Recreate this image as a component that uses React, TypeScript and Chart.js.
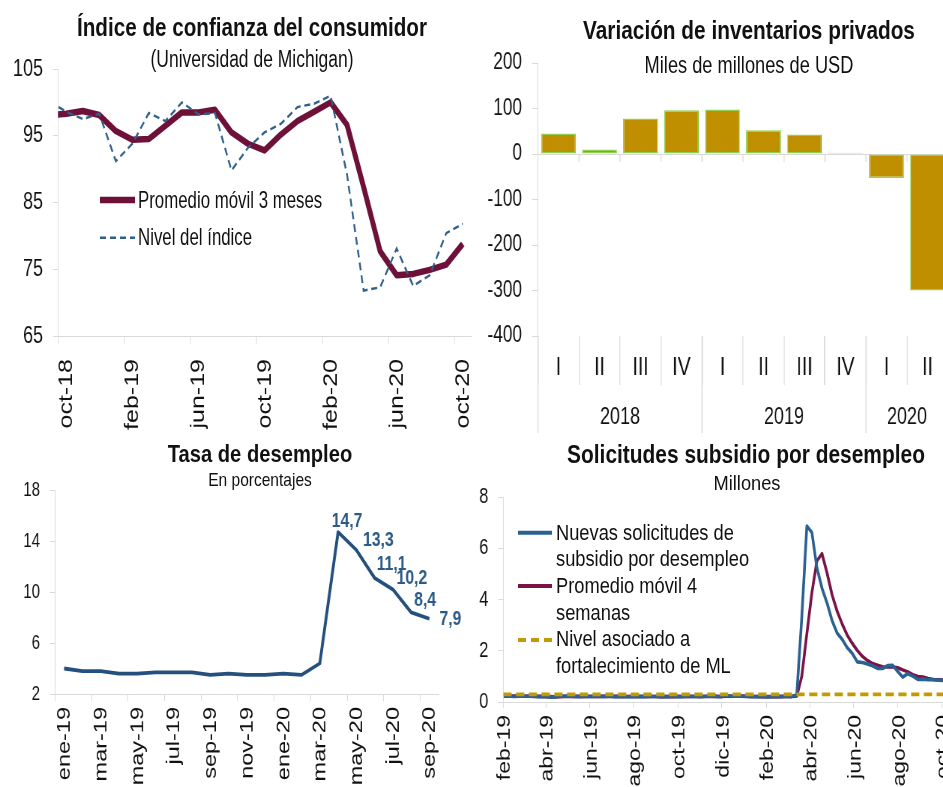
import React, { useEffect, useRef } from 'react';
import { Chart, registerables } from 'chart.js';

Chart.register(...registerables);

const FONT = "'Liberation Sans', Arial, sans-serif";
const AXIS_GRAY = '#d9d9d9';
const INK = '#111111';
// the reference uses condensed lettering; canvases are drawn wider and squeezed horizontally
const SX = 0.75;
const hx = (px: number) => px / SX;

/* ---------- Panel 1: consumer confidence ---------- */
const ICC_TITLE = 'Índice de confianza del consumidor';
const ICC_SUBTITLE = '(Universidad de Michigan)';
const ICC_MONTHS = ['sep-18', 'oct-18', 'nov-18', 'dic-18', 'ene-19', 'feb-19', 'mar-19', 'abr-19', 'may-19', 'jun-19', 'jul-19', 'ago-19', 'sep-19', 'oct-19', 'nov-19', 'dic-19', 'ene-20', 'feb-20', 'mar-20', 'abr-20', 'may-20', 'jun-20', 'jul-20', 'ago-20', 'sep-20', 'oct-20'];
const ICC_LEVEL = [100.1, 98.6, 97.5, 98.3, 91.2, 93.8, 98.4, 97.2, 100.0, 98.2, 98.4, 89.8, 93.2, 95.5, 96.8, 99.3, 99.8, 101.0, 89.1, 71.8, 72.3, 78.1, 72.5, 74.1, 80.4, 81.8];
const ICC_MA3 = [98.1, 98.3, 98.7, 98.1, 95.7, 94.4, 94.5, 96.5, 98.5, 98.5, 98.9, 95.5, 93.8, 92.8, 95.2, 97.2, 98.6, 100.0, 96.6, 87.3, 77.7, 74.1, 74.3, 74.9, 75.7, 78.8];
const ICC_TICKS = ['oct-18', 'feb-19', 'jun-19', 'oct-19', 'feb-20', 'jun-20', 'oct-20'];
const ICC_AXIS_START = 'oct-18';
const ICC_AXIS_END = 'nov-20';
const ICC_LEGEND = ['Promedio móvil 3 meses', 'Nivel del índice'];

/* ---------- Panel 2: private inventories ---------- */
const INV_TITLE = 'Variación de inventarios privados';
const INV_SUBTITLE = 'Miles de millones de USD';
const INV_QUARTERS = ['I', 'II', 'III', 'IV', 'I', 'II', 'III', 'IV', 'I', 'II'];
const INV_YEARS = ['2018', '2019', '2020'];
const INV_YEAR_SIZES = [4, 4, 2];
const INV_VALUES = [45, 10, 78, 96, 98, 52, 43, 3, -53, -300];

/* ---------- Panel 3: unemployment rate ---------- */
const UNEMP_TITLE = 'Tasa de desempleo';
const UNEMP_SUBTITLE = 'En porcentajes';
const UNEMP_MONTHS = ['ene-19', 'feb-19', 'mar-19', 'abr-19', 'may-19', 'jun-19', 'jul-19', 'ago-19', 'sep-19', 'oct-19', 'nov-19', 'dic-19', 'ene-20', 'feb-20', 'mar-20', 'abr-20', 'may-20', 'jun-20', 'jul-20', 'ago-20', 'sep-20'];
const UNEMP_RATE = [4.0, 3.8, 3.8, 3.6, 3.6, 3.7, 3.7, 3.7, 3.5, 3.6, 3.5, 3.5, 3.6, 3.5, 4.4, 14.7, 13.3, 11.1, 10.2, 8.4, 7.9];
const UNEMP_TICKS = ['ene-19', 'mar-19', 'may-19', 'jul-19', 'sep-19', 'nov-19', 'ene-20', 'mar-20', 'may-20', 'jul-20', 'sep-20'];
const UNEMP_AXIS_START = 'ene-19';
const UNEMP_AXIS_END = 'oct-20';
const UNEMP_LABELLED = ['abr-20', 'may-20', 'jun-20', 'jul-20', 'ago-20', 'sep-20'];
// label offsets (dx, dy) in screen pixels relative to each labelled point
const UNEMP_LABEL_OFFSETS = [[9, -11], [22, -10], [17, -14], [19, -11], [14, -12], [21, 0]];

/* ---------- Panel 4: jobless claims ---------- */
const CLAIMS_TITLE = 'Solicitudes subsidio por desempleo';
const CLAIMS_SUBTITLE = 'Millones';
const CLAIMS_FIRST_WEEK = '2019-02-02';
const CLAIMS_NEW = [
  0.253, 0.234, 0.216, 0.225, 0.223, 0.229, 0.221, 0.211, 0.202, 0.196, 0.192, 0.230, 0.230, 0.228, 0.212, 0.211,
  0.215, 0.218, 0.222, 0.216, 0.227, 0.221, 0.209, 0.216, 0.206, 0.215, 0.209, 0.220, 0.209, 0.215, 0.217, 0.204,
  0.208, 0.213, 0.219, 0.210, 0.214, 0.218, 0.215, 0.211, 0.225, 0.227, 0.213, 0.203, 0.252, 0.234, 0.222, 0.222,
  0.214, 0.204, 0.211, 0.216, 0.201, 0.205, 0.210, 0.219, 0.216, 0.211, 0.282, 3.307, 6.867, 6.615, 5.237, 4.442,
  3.867, 3.176, 2.687, 2.446, 2.126, 1.901, 1.566, 1.540, 1.482, 1.413, 1.310, 1.308, 1.422, 1.435, 1.191, 0.971,
  1.104, 1.011, 0.881, 0.893, 0.866, 0.873, 0.849, 0.845, 0.898,
];
const CLAIMS_MA4 = [
  0.228, 0.232, 0.232, 0.232, 0.225, 0.223, 0.225, 0.221, 0.216, 0.208, 0.200, 0.205, 0.212, 0.220, 0.225, 0.220,
  0.217, 0.214, 0.217, 0.218, 0.221, 0.222, 0.218, 0.218, 0.213, 0.212, 0.212, 0.213, 0.213, 0.213, 0.215, 0.211,
  0.211, 0.211, 0.211, 0.213, 0.214, 0.215, 0.214, 0.215, 0.217, 0.220, 0.219, 0.217, 0.224, 0.226, 0.228, 0.233,
  0.223, 0.216, 0.213, 0.211, 0.208, 0.208, 0.208, 0.209, 0.213, 0.214, 0.232, 1.004, 2.667, 4.268, 5.507, 5.790,
  5.040, 4.181, 3.543, 3.044, 2.609, 2.290, 2.010, 1.783, 1.622, 1.500, 1.436, 1.378, 1.363, 1.369, 1.339, 1.255,
  1.175, 1.069, 0.992, 0.972, 0.913, 0.878, 0.870, 0.858, 0.866,
];
const CLAIMS_THRESHOLD = 0.3;
const CLAIMS_TICKS = ['feb-19', 'abr-19', 'jun-19', 'ago-19', 'oct-19', 'dic-19', 'feb-20', 'abr-20', 'jun-20', 'ago-20', 'oct-20'];
const CLAIMS_AXIS_START = '2019-02-01';
const CLAIMS_AXIS_END = '2020-11-01';
const CLAIMS_LEGEND = [
  ['Nuevas solicitudes de', 'subsidio por desempleo'],
  ['Promedio móvil 4', 'semanas'],
  ['Nivel asociado a', 'fortalecimiento de ML'],
];

/* ---------- colours ---------- */
const MAROON = '#6e1139';
const DASH_BLUE = '#2f5f8a';
const LINE_BLUE = '#24507d';
const CLAIMS_BLUE = '#2b6192';
const CLAIMS_MAROON = '#7a1446';
const GOLD = '#c49a00';
const BAR_FILL = '#bf8f00';
const BAR_EDGE = '#92d050';
const LABEL_BLUE = '#2c5a88';

/* ---------- helpers ---------- */
const MONTH_ABBR = ['ene', 'feb', 'mar', 'abr', 'may', 'jun', 'jul', 'ago', 'sep', 'oct', 'nov', 'dic'];
const monthNum = (label: string) => {
  const [m, y] = label.split('-');
  return (2000 + Number(y)) * 12 + MONTH_ABBR.indexOf(m);
};
const monthOffset = (label: string, start: string) => monthNum(label) - monthNum(start);
const DAY = 86400000;
const isoDay = (iso: string) => {
  const [y, m, d] = iso.split('-').map(Number);
  return Date.UTC(y, m - 1, d) / DAY;
};
const tickDay = (label: string) => {
  const [m, y] = label.split('-');
  return Date.UTC(2000 + Number(y), MONTH_ABBR.indexOf(m), 1) / DAY;
};
const fmtComma = (v: number) => v.toFixed(1).replace('.', ',');

const fixSize = (size: number) => (scale: any) => {
  if (scale.isHorizontal()) scale.height = size;
  else scale.width = size;
  scale.paddingLeft = 0;
  scale.paddingRight = 0;
  scale.paddingTop = 0;
  scale.paddingBottom = 0;
};
const setTicks = (values: number[]) => (scale: any) => {
  scale.ticks = values.map((v) => ({ value: v }));
};

const yAxis = (min: number, max: number, step: number, width: number, size: number, extra: any = {}) => ({
  type: 'linear',
  min,
  max,
  afterFit: fixSize(hx(width)),
  border: { color: AXIS_GRAY, width: 1 },
  grid: { drawOnChartArea: false, drawTicks: true, tickLength: hx(5), color: AXIS_GRAY, tickColor: AXIS_GRAY },
  ticks: { stepSize: step, font: { family: FONT, size }, color: INK, padding: hx(10) },
  ...extra,
});

const monthAxis = (
  ticks: string[],
  start: string,
  end: string,
  height: number,
  fontSize: number,
  labelOffset: number,
  tickLength: number,
  padding: number,
) => ({
  type: 'linear',
  min: 0,
  max: monthOffset(end, start),
  afterFit: fixSize(height),
  afterBuildTicks: setTicks(ticks.map((t) => monthOffset(t, start))),
  border: { color: AXIS_GRAY, width: 1 },
  grid: { drawOnChartArea: false, drawTicks: true, tickLength, color: AXIS_GRAY, tickColor: AXIS_GRAY },
  ticks: {
    autoSkip: false,
    minRotation: 90,
    maxRotation: 90,
    labelOffset: hx(labelOffset),
    padding,
    font: { family: FONT, size: fontSize },
    color: INK,
    callback: (_v: any, i: number) => ticks[i],
  },
});

const baseOptions = (padding: any) => ({
  responsive: false,
  animation: false,
  events: [],
  layout: { padding },
  plugins: { legend: { display: false }, tooltip: { enabled: false } },
});

/* ---------- chart configs ---------- */
function iccConfig(): any {
  const pos = (m: string) => monthOffset(m, ICC_AXIS_START) + 0.5;
  return {
    type: 'line',
    data: {
      datasets: [
        {
          label: ICC_LEGEND[1],
          data: ICC_MONTHS.map((m, i) => ({ x: pos(m), y: ICC_LEVEL[i] })),
          borderColor: DASH_BLUE,
          borderWidth: 2.4,
          borderDash: [8, 5],
          pointRadius: 0,
          clip: 0,
          order: 0,
        },
        {
          label: ICC_LEGEND[0],
          data: ICC_MONTHS.map((m, i) => ({ x: pos(m), y: ICC_MA3[i] })),
          borderColor: MAROON,
          borderWidth: 6.5,
          borderJoinStyle: 'round',
          pointRadius: 0,
          clip: 0,
          order: 1,
        },
      ],
    },
    options: {
      ...baseOptions({ left: 0, right: hx(9), top: 69, bottom: 0 }),
      scales: {
        x: monthAxis(ICC_TICKS, ICC_AXIS_START, ICC_AXIS_END, 104, 25, 9, 8, 15),
        y: yAxis(65, 105, 10, 58, 24, {}),
      },
    },
  };
}

const invPlugin = {
  id: 'invAxis',
  afterDraw(chart: any) {
    const { ctx, chartArea } = chart;
    const xs = chart.scales.x;
    const ys = chart.scales.y;
    const n = INV_QUARTERS.length;
    const w = (xs.right - xs.left) / n;
    const y0 = ys.getPixelForValue(0);
    ctx.save();
    ctx.strokeStyle = AXIS_GRAY;
    ctx.lineWidth = 1.3;
    for (let i = 1; i < n; i++) {
      const x = xs.left + i * w;
      ctx.beginPath();
      ctx.moveTo(x, y0);
      ctx.lineTo(x, y0 + 8);
      ctx.stroke();
    }
    let start = 0;
    ctx.font = `24px ${FONT}`;
    ctx.fillStyle = INK;
    ctx.textAlign = 'center';
    ctx.textBaseline = 'middle';
    INV_YEARS.forEach((yr, k) => {
      const x = xs.left + start * w;
      ctx.beginPath();
      ctx.moveTo(x, chartArea.bottom);
      ctx.lineTo(x, chartArea.bottom + 97);
      ctx.stroke();
      const cx = xs.left + (start + INV_YEAR_SIZES[k] / 2) * w;
      ctx.fillText(yr, cx, chartArea.bottom + 81);
      start += INV_YEAR_SIZES[k];
    });
    ctx.restore();
  },
};

function invConfig(): any {
  return {
    type: 'bar',
    data: {
      labels: INV_QUARTERS,
      datasets: [
        {
          data: INV_VALUES,
          backgroundColor: BAR_FILL,
          borderColor: BAR_EDGE,
          borderWidth: 1.5,
          borderSkipped: false,
          barPercentage: 0.85,
          categoryPercentage: 1,
        },
      ],
    },
    plugins: [invPlugin],
    options: {
      ...baseOptions({ left: 0, right: hx(12), top: 63, bottom: 0 }),
      scales: {
        x: {
          type: 'category',
          offset: true,
          afterFit: fixSize(104),
          border: { display: false },
          grid: { offset: true, drawOnChartArea: false, drawTicks: true, tickLength: 49, lineWidth: 1.3, color: AXIS_GRAY, tickColor: AXIS_GRAY },
          ticks: { font: { family: FONT, size: 26 }, color: INK, padding: -33, autoSkip: false, maxRotation: 0 },
        },
        y: yAxis(-400, 200, 100, 68, 23, {
          grid: {
            drawOnChartArea: true,
            drawTicks: true,
            tickLength: hx(6),
            color: (c: any) => (c.tick && c.tick.value === 0 ? AXIS_GRAY : 'rgba(0,0,0,0)'),
            tickColor: AXIS_GRAY,
          },
        }),
      },
    },
  };
}

const unempLabelPlugin = {
  id: 'unempLabels',
  afterDatasetsDraw(chart: any) {
    const meta = chart.getDatasetMeta(0);
    const ctx = chart.ctx;
    ctx.save();
    ctx.font = `bold 21px ${FONT}`;
    ctx.fillStyle = LABEL_BLUE;
    ctx.textAlign = 'center';
    ctx.textBaseline = 'middle';
    UNEMP_LABELLED.forEach((m, k) => {
      const idx = UNEMP_MONTHS.indexOf(m);
      const pt = meta.data[idx];
      const [dx, dy] = UNEMP_LABEL_OFFSETS[k];
      ctx.fillText(fmtComma(UNEMP_RATE[idx]), pt.x + hx(dx), pt.y + dy);
    });
    ctx.restore();
  },
};

function unempConfig(): any {
  return {
    type: 'line',
    data: {
      datasets: [
        {
          data: UNEMP_MONTHS.map((m, i) => ({ x: monthOffset(m, UNEMP_AXIS_START) + 0.5, y: UNEMP_RATE[i] })),
          borderColor: LINE_BLUE,
          borderWidth: 3.8,
          borderJoinStyle: 'round',
          pointRadius: 0,
          clip: 0,
        },
      ],
    },
    plugins: [unempLabelPlugin],
    options: {
      ...baseOptions({ left: 0, right: hx(31.5), top: 50, bottom: 0 }),
      scales: {
        x: monthAxis(UNEMP_TICKS, UNEMP_AXIS_START, UNEMP_AXIS_END, 93, 23.5, 10, 7, 6),
        y: yAxis(2, 18, 4, 55, 20, {}),
      },
    },
  };
}

function claimsConfig(): any {
  const origin = isoDay(CLAIMS_AXIS_START);
  const first = isoDay(CLAIMS_FIRST_WEEK) - origin;
  const weekX = (i: number) => first + 7 * i;
  const maxX = isoDay(CLAIMS_AXIS_END) - origin;
  const tickVals = CLAIMS_TICKS.map((t) => tickDay(t) - origin);
  return {
    type: 'line',
    data: {
      datasets: [
        {
          data: [
            { x: 0, y: CLAIMS_THRESHOLD },
            { x: maxX, y: CLAIMS_THRESHOLD },
          ],
          borderColor: GOLD,
          borderWidth: 3.8,
          borderDash: [11, 6],
          pointRadius: 0,
          clip: 0,
          order: 0,
        },
        {
          data: CLAIMS_NEW.map((v, i) => ({ x: weekX(i), y: v })),
          borderColor: CLAIMS_BLUE,
          borderWidth: 3.6,
          borderJoinStyle: 'round',
          pointRadius: 0,
          clip: 0,
          order: 1,
        },
        {
          data: CLAIMS_MA4.map((v, i) => ({ x: weekX(i), y: v })),
          borderColor: CLAIMS_MAROON,
          borderWidth: 3.6,
          borderJoinStyle: 'round',
          pointRadius: 0,
          clip: 0,
          order: 2,
        },
      ],
    },
    options: {
      ...baseOptions({ left: 0, right: hx(6), top: 57, bottom: 0 }),
      scales: {
        x: {
          type: 'linear',
          min: 0,
          max: maxX,
          afterFit: fixSize(85),
          afterBuildTicks: setTicks(tickVals),
          border: { color: AXIS_GRAY, width: 1 },
          grid: { drawOnChartArea: false, drawTicks: true, tickLength: 6, color: AXIS_GRAY, tickColor: AXIS_GRAY },
          ticks: {
            autoSkip: false,
            minRotation: 90,
            maxRotation: 90,
            labelOffset: hx(2),
            padding: 7,
            font: { family: FONT, size: 23 },
            color: INK,
            callback: (_v: any, i: number) => CLAIMS_TICKS[i],
          },
        },
        y: yAxis(0, 8, 2, 33.3, 22, {}),
      },
    },
  };
}

/* ---------- components ---------- */
function ChartBox(props: { left: number; top: number; width: number; height: number; clipWidth: number; make: () => any }) {
  const ref = useRef<HTMLCanvasElement>(null);
  useEffect(() => {
    const chart = new Chart(ref.current as HTMLCanvasElement, props.make());
    return () => chart.destroy();
  }, []);
  return (
    <div style={{ position: 'absolute', left: props.left, top: props.top, width: props.clipWidth, height: props.height, overflow: 'hidden' }}>
      <canvas
        ref={ref}
        width={Math.round(hx(props.width))}
        height={props.height}
        style={{ width: props.width, height: props.height, display: 'block' }}
      />
    </div>
  );
}

function Txt(props: { x: number; base: number; size: number; scale: number; bold?: boolean; center?: boolean; children: any }) {
  const s = props.size;
  const lh = Math.round(s * 1.2);
  const top = props.base - ((lh - 1.117 * s) / 2 + 0.905 * s);
  return (
    <div
      style={{
        position: 'absolute',
        left: props.x,
        top,
        height: lh,
        lineHeight: `${lh}px`,
        fontSize: s,
        fontFamily: FONT,
        fontWeight: props.bold ? 700 : 400,
        color: INK,
        whiteSpace: 'nowrap',
        transformOrigin: props.center ? 'center' : 'left',
        transform: props.center ? `translateX(-50%) scaleX(${props.scale})` : `scaleX(${props.scale})`,
        zIndex: 2,
      }}
    >
      {props.children}
    </div>
  );
}

export default function App() {
  return (
    <div style={{ position: 'fixed', left: 0, top: 0, width: 943, height: 787, overflow: 'hidden', background: '#ffffff' }}>
      <ChartBox left={0} top={0} width={480} height={440} clipWidth={480} make={iccConfig} />
      <ChartBox left={470} top={0} width={490} height={440} clipWidth={473} make={invConfig} />
      <ChartBox left={0} top={440} width={470} height={347} clipWidth={470} make={unempConfig} />
      <ChartBox left={470} top={440} width={500} height={347} clipWidth={473} make={claimsConfig} />

      <Txt x={251.5} base={36.7} size={25.5} scale={0.81} bold center>{ICC_TITLE}</Txt>
      <Txt x={251.5} base={66.7} size={23} scale={0.76} center>{ICC_SUBTITLE}</Txt>
      <Txt x={748.5} base={39} size={25.5} scale={0.816} bold center>{INV_TITLE}</Txt>
      <Txt x={748.5} base={73.3} size={24} scale={0.76} center>{INV_SUBTITLE}</Txt>
      <Txt x={260} base={461.7} size={24} scale={0.84} bold center>{UNEMP_TITLE}</Txt>
      <Txt x={260} base={486.7} size={18.5} scale={0.84} center>{UNEMP_SUBTITLE}</Txt>
      <Txt x={746} base={463.3} size={25.5} scale={0.82} bold center>{CLAIMS_TITLE}</Txt>
      <Txt x={746.5} base={490} size={21} scale={0.87} center>{CLAIMS_SUBTITLE}</Txt>

      <svg width={943} height={787} style={{ position: 'absolute', left: 0, top: 0, zIndex: 1 }}>
        <line x1={100} y1={200} x2={135} y2={200} stroke={MAROON} strokeWidth={6.5} />
        <line x1={100} y1={237.7} x2={135} y2={237.7} stroke={DASH_BLUE} strokeWidth={2.4} strokeDasharray="6 4" />
        <line x1={518} y1={532.7} x2={552} y2={532.7} stroke={CLAIMS_BLUE} strokeWidth={4} />
        <line x1={518} y1={586} x2={552} y2={586} stroke={CLAIMS_MAROON} strokeWidth={4} />
        <line x1={518} y1={640} x2={552} y2={640} stroke={GOLD} strokeWidth={4} strokeDasharray="8 5" />
      </svg>
      <Txt x={138.3} base={208.3} size={24.5} scale={0.687}>{ICC_LEGEND[0]}</Txt>
      <Txt x={138.3} base={245.3} size={24.5} scale={0.687}>{ICC_LEGEND[1]}</Txt>
      {CLAIMS_LEGEND.map((lines, k) =>
        lines.map((t, j) => (
          <Txt key={`${k}-${j}`} x={556} base={540 + k * 53.3 + j * 26.7} size={22.3} scale={0.82}>
            {t}
          </Txt>
        )),
      )}
    </div>
  );
}
